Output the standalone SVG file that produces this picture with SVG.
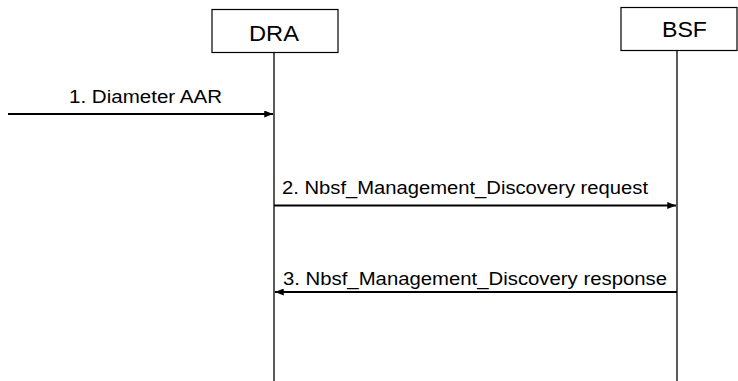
<svg xmlns="http://www.w3.org/2000/svg" width="738" height="381" viewBox="0 0 738 381">
<style>
.box{fill:#fff;stroke:#000;stroke-width:1.2}
.life{stroke:#000;stroke-width:1.3;fill:none}
.msg{stroke:#000;stroke-width:1.8;fill:none}
.nl{font-family:"Liberation Sans",Arial,sans-serif;font-size:22px;fill:#000}
.ml{font-family:"Liberation Sans",Arial,sans-serif;font-size:17.5px;fill:#000}
</style>
<defs>
<marker id="ah" viewBox="0 0 10 8" refX="10" refY="4" markerWidth="9" markerHeight="7" markerUnits="userSpaceOnUse" orient="auto">
<path d="M0,0 L10,4 L0,8 z" fill="#000"/>
</marker>
</defs>
<rect width="738" height="381" fill="#fff"/>
<g id="DRA">
<rect class="box" x="212" y="9.5" width="126" height="43"/>
<text class="nl" x="249" y="41" textLength="50" lengthAdjust="spacingAndGlyphs">DRA</text>
<line class="life" x1="274" y1="52.5" x2="274" y2="381"/>
</g>
<g id="BSF">
<rect class="box" x="621" y="7.5" width="116" height="43"/>
<text class="nl" x="662" y="37" textLength="45" lengthAdjust="spacingAndGlyphs">BSF</text>
<line class="life" x1="677" y1="50.5" x2="677" y2="381"/>
</g>
<g id="connectors">
<line class="msg" x1="8" y1="114" x2="273" y2="114" marker-end="url(#ah)"/>
<text class="ml" x="69" y="103" textLength="153" lengthAdjust="spacingAndGlyphs">1. Diameter AAR</text>
<line class="msg" x1="274" y1="205.5" x2="676" y2="205.5" marker-end="url(#ah)"/>
<text class="ml" x="282" y="193.5" textLength="366" lengthAdjust="spacingAndGlyphs">2. Nbsf_Management_Discovery request</text>
<line class="msg" x1="677" y1="292" x2="275" y2="292" marker-end="url(#ah)"/>
<text class="ml" x="283" y="284.5" textLength="384" lengthAdjust="spacingAndGlyphs">3. Nbsf_Management_Discovery response</text>
</g>
</svg>
